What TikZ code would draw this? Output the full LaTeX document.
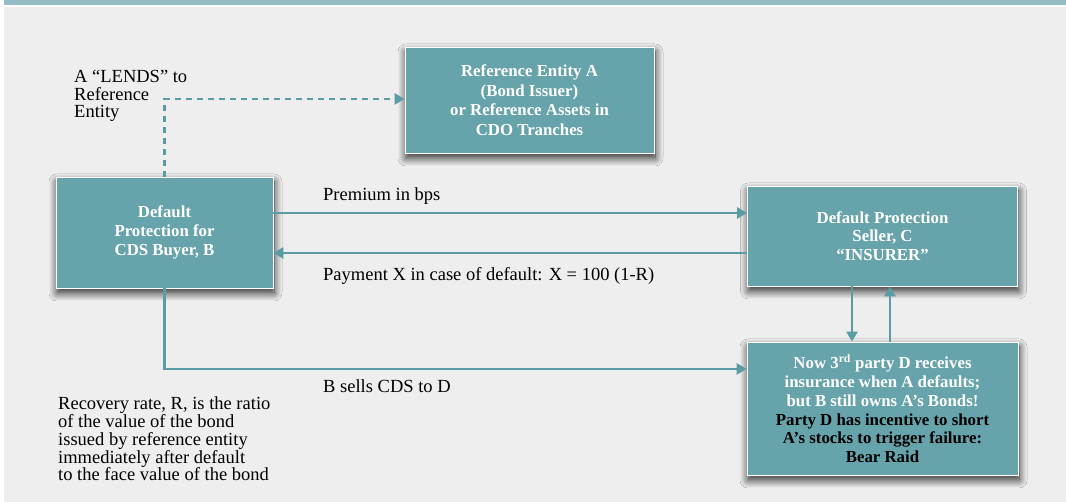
\documentclass[tikz,border=0pt]{standalone}
\usepackage{fontspec}
\setmainfont{Liberation Serif}
\usetikzlibrary{arrows.meta,shadows.blur}
\definecolor{barcol}{HTML}{93BCC5}
\definecolor{bgcol}{HTML}{EEEEEE}
\definecolor{boxcol}{HTML}{66A3AB}
\definecolor{arrcol}{HTML}{5A9BA4}
\begin{document}
\begin{tikzpicture}[x=1pt,y=1pt,
  boxnode/.style={draw=white, line width=0.8pt, fill=boxcol, text=white,
    font=\bfseries\fontsize{16.8}{18.8}\selectfont, align=center, inner sep=0pt,
    blur shadow={shadow blur radius=8pt, shadow xshift=1pt, shadow yshift=-5pt, shadow opacity=85, shadow blur steps=14}},
  plain/.style={font=\fontsize{18.5}{17.8}\selectfont, align=left, inner sep=0pt, text=black},
  flow/.style={draw=arrcol, line width=2.6pt, -{Triangle[length=10pt,width=11pt]}},
  dflow/.style={flow, dash pattern=on 6pt off 5pt}]
\useasboundingbox (0,0) rectangle (1066,502);
\fill[white] (0,0) rectangle (1066,502);
\fill[bgcol] (4,0) rectangle (1066,495);
\fill[barcol] (4,497) rectangle (1066,502);

\node[boxnode, minimum width=249pt, minimum height=106pt, font=\bfseries\fontsize{16.8}{19.5}\selectfont] (A) at (529.5,402)
  {Reference Entity A\\(Bond Issuer)\\or Reference Assets in\\CDO Tranches};
\node[boxnode, minimum width=217pt, minimum height=111pt] (B) at (164.5,269.5)
  {Default\\Protection for\\CDS Buyer, B};
\node[boxnode, minimum width=270pt, minimum height=100pt] (C) at (882.5,266)
  {Default Protection\\Seller, C\\“INSURER”};
\node[boxnode, minimum width=271pt, minimum height=133pt] (D) at (882.5,93.5)
  {Now 3\textsuperscript{rd} party D receives\\insurance when A defaults;\\but B still owns A’s Bonds!\\
   \textcolor{black}{Party D has incentive to short}\\\textcolor{black}{A’s stocks to trigger failure:}\\\textcolor{black}{Bear Raid}};

\coordinate (yL) at (0,403);
\coordinate (yP) at (0,289);
\coordinate (yX) at (0,249);
\coordinate (yS) at (0,133);
\coordinate (xd) at (852,0);
\coordinate (xu) at (890,0);

\draw[dflow] (B.north) |- (A.west |- yL);
\draw[flow] (B.east |- yP) -- (C.west |- yP);
\draw[flow] (C.west |- yX) -- (B.east |- yX);
\draw[flow] (B.south) |- (D.west |- yS);
\draw[flow] (C.south -| xd) -- (D.north -| xd);
\draw[flow] (D.north -| xu) -- (C.south -| xu);

\node[plain, anchor=west] (lend) at (74,406) {A “LENDS” to\\Reference\\Entity};
\node[plain, anchor=west] (prem) at (323,306) {Premium in bps};
\node[plain, anchor=west] (pay) at (323,226) {Payment X in case of default: X = 100 (1-R)};
\node[plain, anchor=west] (sell) at (323,116) {B sells CDS to D};
\node[plain, anchor=west] (rec) at (58,63) {Recovery rate, R, is the ratio\\of the value of the bond\\issued by reference entity\\immediately after default\\to the face value of the bond};
\end{tikzpicture}
\end{document}
